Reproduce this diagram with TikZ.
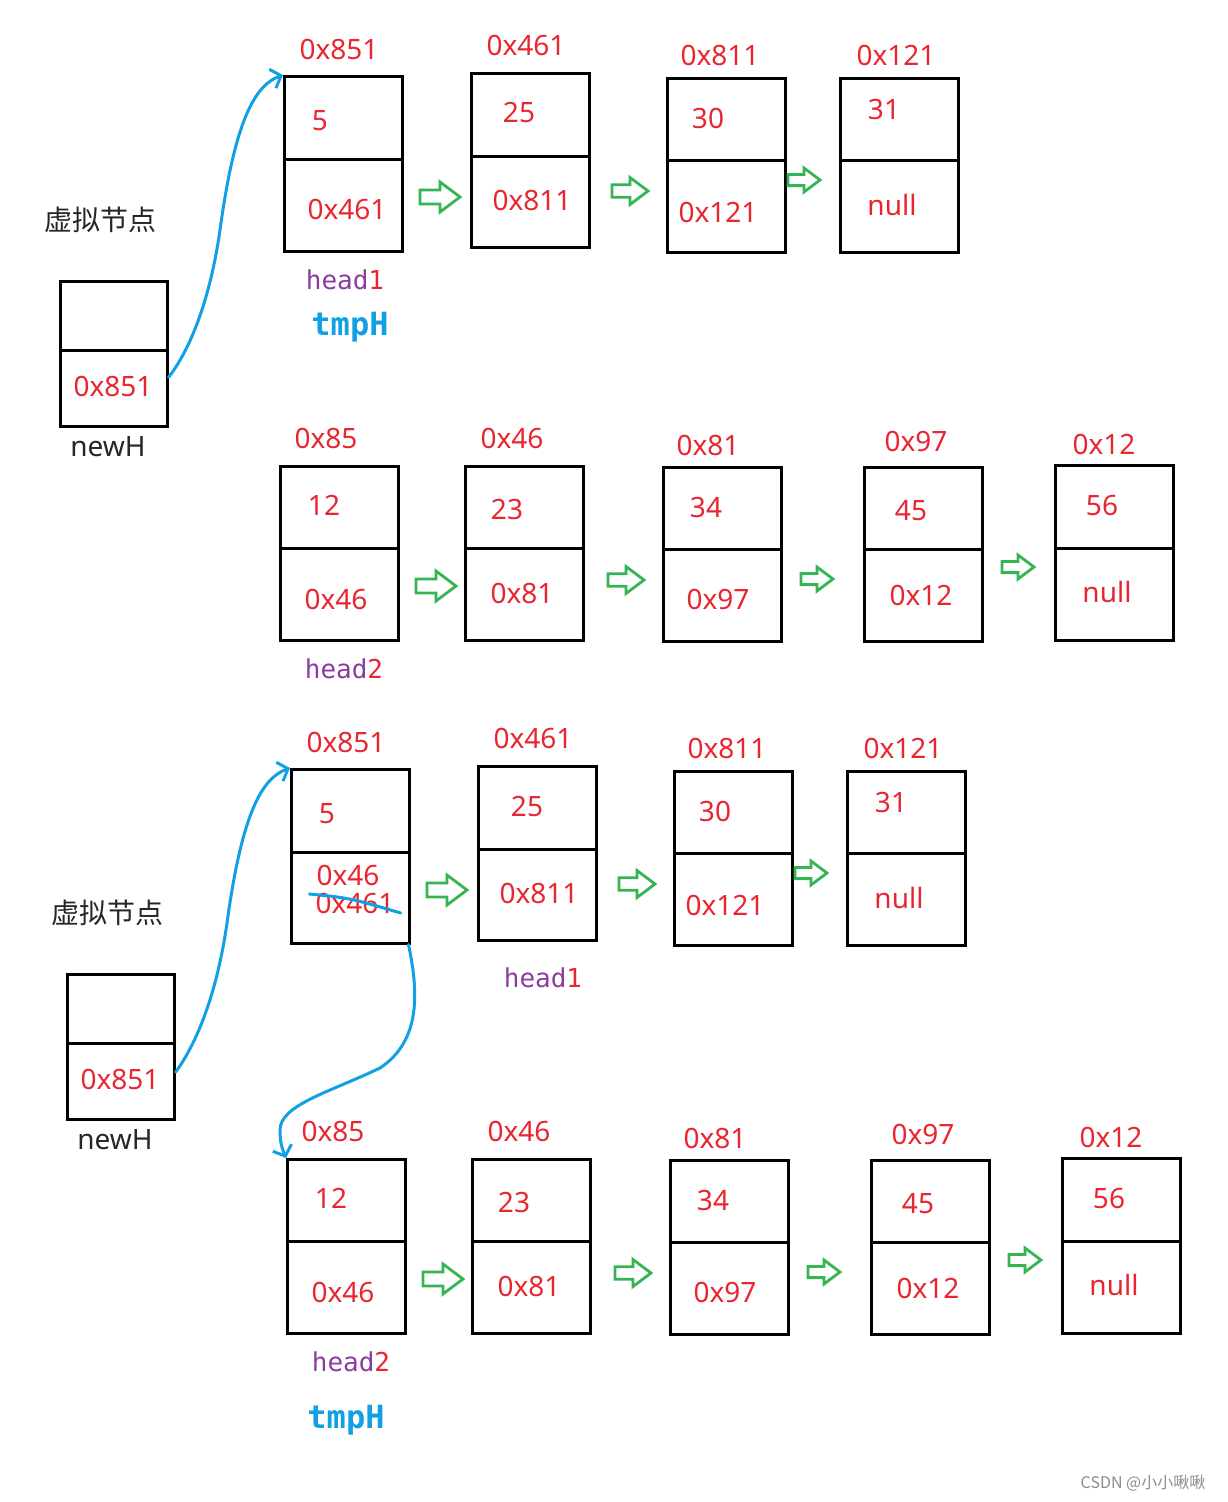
\documentclass[tikz,border=0pt]{standalone}
\usepackage{fontspec}
\setmainfont{Noto Sans}
\newfontfamily\cjkfont{Noto Sans CJK SC}
\newfontfamily\codefont{DejaVu Sans Mono}
\usepackage{xcolor}
\usetikzlibrary{arrows.meta}

\definecolor{addrred}{RGB}{232,38,48}
\definecolor{headpurple}{RGB}{140,60,160}
\definecolor{penblue}{RGB}{18,160,228}
\definecolor{arrowgreen}{RGB}{52,180,82}

% one list node: [width], name, left x, top y, divider y, bottom y
\newcommand{\listnode}[6][118]{%
  \node[cell, minimum width=#1, minimum height={#5-#4}] (#2v) at (#3,#4) {};
  \node[cell, minimum width=#1, minimum height={#6-#5}] (#2p) at (#3,#5) {};
}

\begin{document}
\begin{tikzpicture}[x=1pt,y=-1pt,
  cell/.style={draw, line width=2.5pt, inner sep=0pt, anchor=north west},
  addr/.style={text=addrred, font=\fontsize{28}{30}\selectfont, inner sep=0pt},
  varname/.style={text=black!85, font=\fontsize{28}{30}\selectfont, inner sep=0pt},
  headtag/.style={text=headpurple, font=\codefont\fontsize{26}{28}\selectfont, inner sep=0pt},
  tmptag/.style={text=penblue, font=\codefont\bfseries\fontsize{32}{34}\selectfont, inner sep=0pt},
  pen/.style={draw=penblue, line width=3pt, line cap=round},
  nextarrow/.pic={\draw[arrowgreen, line width=2.8pt, line join=miter]
    (-20,-7) -- (0,-7) -- (0,-15) -- (20,0) -- (0,15) -- (0,7) -- (-20,7) -- cycle;}]

  \useasboundingbox (0,0) rectangle (1227,1502);

  % ---- first list with dummy node
  \node[varname, font=\cjkfont\fontsize{28}{30}\selectfont] (n1name) at (100,220) {虚拟节点};
  \listnode[107]{n1}{59}{280}{349}{425}
  \node[addr] (n1val) at (113,386) {0x851};
  \node[varname] (n1lbl) at (108,447) {newH};

  \listnode{a1}{283}{75}{158}{250}
  \listnode{a2}{470}{72}{155}{246}
  \listnode{a3}{666}{77}{159}{251}
  \listnode{a4}{839}{77}{159}{251}
  \node[addr] (a1addr) at (339,49) {0x851};
  \node[addr] (a1val) at (320,121) {5};
  \node[addr] (a1next) at (347,209) {0x461};
  \node[addr] (a2addr) at (526,45) {0x461};
  \node[addr] (a2val) at (519,113) {25};
  \node[addr] (a2next) at (532,200) {0x811};
  \node[addr] (a3addr) at (720,55) {0x811};
  \node[addr] (a3val) at (708,118) {30};
  \node[addr] (a3next) at (718,212) {0x121};
  \node[addr] (a4addr) at (896,55) {0x121};
  \node[addr] (a4val) at (884,110) {31};
  \node[addr] (a4next) at (892,205) {null};
  \node[headtag] (a1head) at (345,280) {head\textcolor{addrred}{1}};
  \node[tmptag] (a1tmp) at (350,327) {tmpH};
  \pic at (440,197) {nextarrow};
  \pic[scale=0.9] at (630,191) {nextarrow};
  \pic[scale=0.8] at (804,180) {nextarrow};

  % ---- second list
  \listnode{b1}{279}{465}{547}{639}
  \listnode{b2}{464}{465}{547}{639}
  \listnode{b3}{662}{466}{548}{640}
  \listnode{b4}{863}{466}{548}{640}
  \listnode{b5}{1054}{464}{547}{639}
  \node[addr] (b1addr) at (326,438) {0x85};
  \node[addr] (b1val) at (324,505) {12};
  \node[addr] (b1next) at (336,599) {0x46};
  \node[addr] (b2addr) at (512,438) {0x46};
  \node[addr] (b2val) at (507,509) {23};
  \node[addr] (b2next) at (522,593) {0x81};
  \node[addr] (b3addr) at (708,445) {0x81};
  \node[addr] (b3val) at (706,507) {34};
  \node[addr] (b3next) at (718,599) {0x97};
  \node[addr] (b4addr) at (916,441) {0x97};
  \node[addr] (b4val) at (911,511) {45};
  \node[addr] (b4next) at (921,595) {0x12};
  \node[addr] (b5addr) at (1104,444) {0x12};
  \node[addr] (b5val) at (1102,505) {56};
  \node[addr] (b5next) at (1107,592) {null};
  \node[headtag] (b1head) at (344,669) {head\textcolor{addrred}{2}};
  \pic at (436,586) {nextarrow};
  \pic[scale=0.9] at (626,580) {nextarrow};
  \pic[scale=0.8] at (817,579) {nextarrow};
  \pic[scale=0.8] at (1018,567) {nextarrow};

  % ---- after linking: first list again
  \node[varname, font=\cjkfont\fontsize{28}{30}\selectfont] (n2name) at (107,913) {虚拟节点};
  \listnode[107]{n2}{66}{973}{1042}{1118}
  \node[addr] (n2val) at (120,1079) {0x851};
  \node[varname] (n2lbl) at (115,1140) {newH};

  \listnode{c1}{290}{768}{851}{942}
  \listnode{c2}{477}{765}{848}{939}
  \listnode{c3}{673}{770}{852}{944}
  \listnode{c4}{846}{770}{852}{944}
  \node[addr] (c1addr) at (346,742) {0x851};
  \node[addr] (c1val) at (327,814) {5};
  \node[addr] (c1next) at (348,875) {0x46};
  \node[addr] (c1old) at (355,903) {0x461};
  \node[addr] (c2addr) at (533,738) {0x461};
  \node[addr] (c2val) at (527,806) {25};
  \node[addr] (c2next) at (539,893) {0x811};
  \node[addr] (c3addr) at (727,748) {0x811};
  \node[addr] (c3val) at (715,811) {30};
  \node[addr] (c3next) at (725,905) {0x121};
  \node[addr] (c4addr) at (903,748) {0x121};
  \node[addr] (c4val) at (891,802) {31};
  \node[addr] (c4next) at (899,898) {null};
  \node[headtag] (c2head) at (543,978) {head\textcolor{addrred}{1}};
  \pic at (447,890) {nextarrow};
  \pic[scale=0.9] at (637,884) {nextarrow};
  \pic[scale=0.8] at (811,873) {nextarrow};

  % ---- second list again
  \listnode{d1}{286}{1158}{1240}{1332}
  \listnode{d2}{471}{1158}{1240}{1332}
  \listnode{d3}{669}{1159}{1241}{1333}
  \listnode{d4}{870}{1159}{1241}{1333}
  \listnode{d5}{1061}{1157}{1240}{1332}
  \node[addr] (d1addr) at (333,1131) {0x85};
  \node[addr] (d1val) at (331,1198) {12};
  \node[addr] (d1next) at (343,1292) {0x46};
  \node[addr] (d2addr) at (519,1131) {0x46};
  \node[addr] (d2val) at (514,1202) {23};
  \node[addr] (d2next) at (529,1286) {0x81};
  \node[addr] (d3addr) at (715,1138) {0x81};
  \node[addr] (d3val) at (713,1200) {34};
  \node[addr] (d3next) at (725,1292) {0x97};
  \node[addr] (d4addr) at (923,1134) {0x97};
  \node[addr] (d4val) at (918,1204) {45};
  \node[addr] (d4next) at (928,1288) {0x12};
  \node[addr] (d5addr) at (1111,1137) {0x12};
  \node[addr] (d5val) at (1109,1198) {56};
  \node[addr] (d5next) at (1114,1285) {null};
  \node[headtag] (d1head) at (351,1362) {head\textcolor{addrred}{2}};
  \node[tmptag] (d1tmp) at (346,1420) {tmpH};
  \pic at (443,1279) {nextarrow};
  \pic[scale=0.9] at (633,1273) {nextarrow};
  \pic[scale=0.8] at (824,1272) {nextarrow};
  \pic[scale=0.8] at (1025,1260) {nextarrow};

  % hand drawn pointers
  \path[pen, -{Straight Barb[length=9pt,width=20pt]}]
    ([yshift=11]n1p.east) .. controls (190,350) and (210,300) .. (220,230)
      .. controls (235,120) and (255,85) .. (a1v.north west);
  \path[pen, -{Straight Barb[length=9pt,width=20pt]}]
    ([yshift=9]n2p.east) .. controls (197,1043) and (217,993) .. (227,923)
      .. controls (242,813) and (262,778) .. (c1v.north west);
  \path[pen, -{Straight Barb[length=9pt,width=20pt]}]
    ([xshift=-2]c1p.south east) .. controls (418,990) and (422,1040) .. (380,1068)
      .. controls (330,1092) and (280,1105) .. (280,1130)
      .. controls (280,1145) and (283,1150) .. (d1v.north west);
  \path[pen] ([shift={(-6,-9)}]c1old.west) .. controls (350,898) .. ([shift={(6,10)}]c1old.east);

  \node[text=black!45, font=\cjkfont\fontsize{16}{18}\selectfont, inner sep=0pt] (mark) at (1143,1483) {CSDN @小小啾啾};
\end{tikzpicture}
\end{document}
